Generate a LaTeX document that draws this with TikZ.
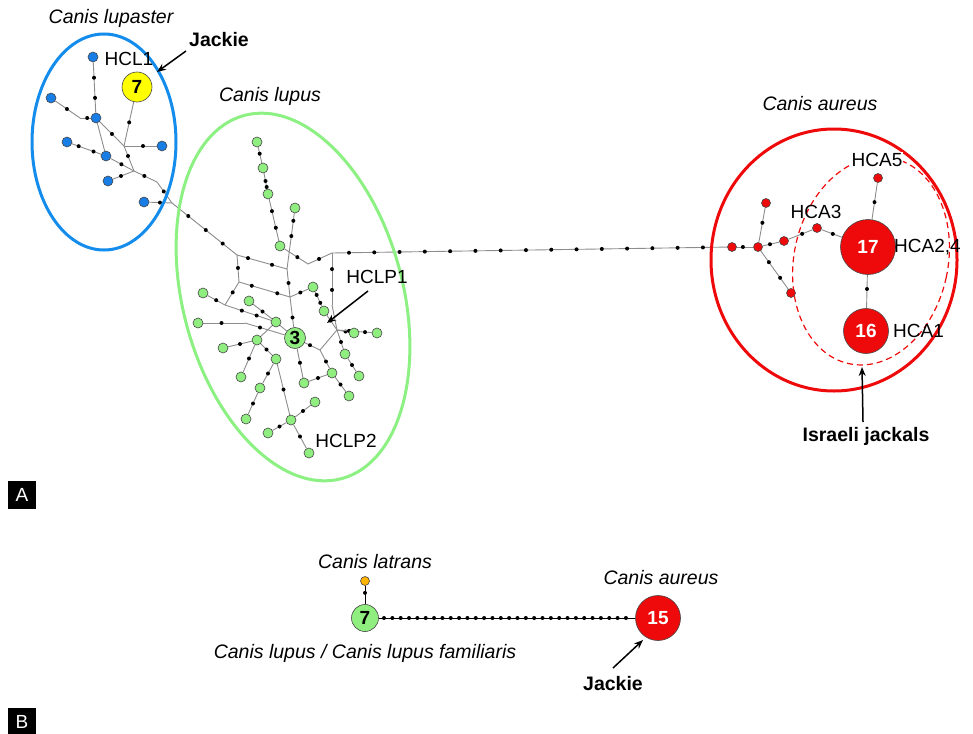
\documentclass[tikz,border=0pt]{standalone}
\usepackage{fontspec}
\setmainfont{Liberation Sans}
\usetikzlibrary{calc,arrows.meta}
\pgfdeclarelayer{bg}
\pgfsetlayers{bg,main}
\definecolor{bluen}{RGB}{25,125,230}
\definecolor{bluel}{RGB}{20,140,235}
\definecolor{greenn}{RGB}{144,238,128}
\definecolor{greenl}{RGB}{140,240,130}
\definecolor{redn}{RGB}{238,10,10}
\definecolor{yellown}{RGB}{255,255,0}
\definecolor{orangen}{RGB}{255,180,0}
\definecolor{edgegray}{RGB}{140,140,140}
\definecolor{nodeborder}{RGB}{70,70,70}
\newcounter{mvc}
\tikzset{
  edge/.style={draw=edgegray, line width=0.9pt},
  edgeb/.style={draw=black, line width=1pt},
  hap/.style={circle, draw=nodeborder, line width=0.6pt, inner sep=0pt, minimum size=10pt},
  bh/.style={hap, fill=bluen},
  gh/.style={hap, fill=greenn},
  rh/.style={hap, fill=redn, minimum size=9pt},
  mv/.style={circle, fill=black, inner sep=0pt, minimum size=4pt},
  lbl/.style={font=\fontsize{19}{21}\selectfont, inner sep=1pt},
  sp/.style={font=\fontsize{19.5}{21}\selectfont\itshape, inner sep=1pt},
  jk/.style={font=\fontsize{19.5}{21}\selectfont\bfseries, inner sep=1pt},
  num/.style={font=\fontsize{19}{21}\selectfont\bfseries},
  arr/.style={-{Stealth[length=9pt,width=7pt]}, line width=1.5pt},
  panel/.style={fill=black, text=white, minimum size=28pt, inner sep=0pt, font=\fontsize{19}{21}\selectfont}
}
\newcommand\lnk[4][edge]{%
  \draw[#1] (#2) -- (#3);
  \foreach \mvp in {#4}{\stepcounter{mvc}\node[mv] (mv\arabic{mvc}) at ($(#2)!\mvp!(#3)$) {};}%
}
\newcommand\lnz[2]{\draw[edge] (#1) -- (#2);}
\begin{document}
\begin{tikzpicture}[x=1pt,y=-1pt]
\useasboundingbox (0,0) rectangle (973,733);
% ---------------- blue cluster
\node[bh] (b1) at (93,57) {};
\node[bh] (b2) at (51,98) {};
\node[bh] (b3) at (96,118) {};
\node[bh] (b4) at (67,142) {};
\node[bh] (b5) at (106,156) {};
\node[bh] (b6) at (162,146) {};
\node[bh] (b7) at (108,181) {};
\node[bh] (b8) at (144,202) {};
\node[hap, fill=yellown, minimum size=30pt, num] (y7) at (137,87) {7};
\coordinate (jb1) at (80,118);
\coordinate (jb2) at (124,146);
\coordinate (jb3) at (134,171);
\coordinate (jb4) at (157,182);
\coordinate (jb5) at (172,203);
% ---------------- green cluster
\node[gh] (g1) at (257,142) {};
\node[gh] (g2) at (263,168) {};
\node[gh] (g3) at (268,194) {};
\node[gh] (g4) at (295,208) {};
\node[gh] (g5) at (280,246) {};
\node[gh] (g6) at (203,293) {};
\node[gh] (g7) at (249,301) {};
\node[gh] (g8) at (313,287) {};
\node[gh] (g9) at (198,323) {};
\node[gh] (g10) at (276,322) {};
\node[gh] (g11) at (324,311) {};
\node[gh, minimum size=21pt, num] (n3) at (295,338) {3};
\node[gh] (g12) at (257,340) {};
\node[gh] (g13) at (223,348) {};
\node[gh] (g14) at (354,333) {};
\node[gh] (g15) at (377,333) {};
\node[gh] (g16) at (345,354) {};
\node[gh] (g17) at (276,359) {};
\node[gh] (g18) at (241,377) {};
\node[gh] (g19) at (304,383) {};
\node[gh] (g20) at (332,373) {};
\node[gh] (g21) at (359,376) {};
\node[gh] (g22) at (260,388) {};
\node[gh] (g23) at (349,396) {};
\node[gh] (g24) at (315,402) {};
\node[gh] (g25) at (246,419) {};
\node[gh] (g26) at (291,420) {};
\node[gh] (g27) at (268,433) {};
\node[gh] (g28) at (309,453) {};
\coordinate (jg1) at (237,255);
\coordinate (jg2) at (287,269);
\coordinate (jg3) at (239,282);
\coordinate (jg4) at (332,253);
\coordinate (jg5) at (332,305);
\coordinate (jg6) at (290,297);
\coordinate (jg7) at (225,305);
\coordinate (jg8) at (245,323);
\coordinate (jg9) at (320,350);
\coordinate (jg10) at (337,330);
\coordinate (jg11) at (308,264);
% ---------------- red cluster
\node[rh] (r1) at (732,247) {};
\node[rh] (r2) at (758,247) {};
\node[rh] (r3) at (766,203) {};
\node[rh] (r4) at (784,241) {};
\node[rh] (r5) at (817,228) {};
\node[rh] (r6) at (791,293) {};
\node[rh] (r7) at (878,178) {};
\node[hap, fill=redn, minimum size=55pt, num, text=white] (r17) at (868,247) {17};
\node[hap, fill=redn, minimum size=45pt, num, text=white] (r16) at (866,331) {16};
% ---------------- panel B nodes
\node[hap, fill=orangen, minimum size=9pt] (o1) at (365,581) {};
\node[hap, fill=greenn, minimum size=27pt, num] (bg7) at (365,618) {7};
\node[hap, fill=redn, minimum size=45pt, num, text=white] (br15) at (658,618) {15};

\begin{pgfonlayer}{bg}
% blue edges
\lnk{b1}{b3}{0.34,0.67}
\lnk{b2}{jb1}{0.55}
\lnk{jb1}{b3}{0.45}
\lnk{b3}{jb2}{0.57}
\lnz{b3}{b5}
\lnk{y7}{jb2}{0.6}
\lnk{jb2}{b6}{0.5}
\lnk{jb2}{jb3}{0.4}
\lnk{b4}{b5}{0.3,0.68}
\lnk{b5}{jb3}{0.55}
\lnk{b7}{jb3}{0.5}
\lnk{jb3}{jb4}{0.45}
\lnk{jb4}{jb5}{0.45}
\lnk{b8}{jb5}{0.57}
\lnk{jb5}{jg1}{0.25,0.52,0.78}
% green edges
\lnk{g1}{g2}{0.45}
\lnk{g2}{g3}{0.5,0.73}
\lnk{g3}{g5}{0.33,0.65}
\lnk{g4}{jg2}{0.21,0.46}
\lnk{g5}{jg11}{0.62}
\lnk{jg11}{jg4}{0.46}
\lnk{jg4}{jg5}{0.31,0.71}
\lnz{jg5}{jg10}
\lnk{jg1}{jg2}{0.22,0.7}
\lnk{jg1}{jg3}{0.48}
\lnk{jg2}{jg6}{0.5}
\lnk{jg3}{jg6}{0.25,0.75}
\lnk{jg3}{jg7}{0.45}
\lnk{g6}{jg7}{0.6}
\lnk{jg7}{g10}{0.33,0.62}
\lnk{g7}{g10}{0.5}
\lnk{jg6}{g8}{0.45}
\lnk{g8}{g11}{0.33,0.66}
\lnk{g11}{jg10}{0.5}
\lnk{jg6}{n3}{0.5}
\lnz{g10}{n3}
\lnk{g9}{jg8}{0.5}
\lnk{jg8}{n3}{0.3}
\lnz{g12}{g10}
\lnk{g13}{g12}{0.5}
\lnk{g18}{g12}{0.5}
\lnk{g12}{g17}{0.5}
\lnk{g17}{g22}{0.5}
\lnk{g22}{g25}{0.5}
\lnk{g17}{g26}{0.5}
\lnk{g26}{g27}{0.5}
\lnk{g26}{g24}{0.5}
\lnk{g26}{g28}{0.5}
\lnk{n3}{g19}{0.55}
\lnk{g19}{g20}{0.5}
\lnk{g20}{g23}{0.5}
\lnk{g20}{jg9}{0.5}
\lnk{jg9}{n3}{0.4}
\lnz{jg10}{jg9}
\lnk{jg10}{g14}{0.5}
\lnk{jg10}{g15}{0.3,0.7}
\lnk{g16}{jg10}{0.5}
\lnk{g16}{g21}{0.5}
% long connection
\draw[edge] (jg4) -- (r1);
\foreach \i in {0,...,14}{\pgfmathsetmacro\mvpos{0.0425+\i*0.0632}\stepcounter{mvc}\node[mv] (mv\arabic{mvc}) at ($(jg4)!\mvpos!(r1)$) {};}
% red edges
\lnk{r1}{r2}{0.42}
\lnk{r2}{r3}{0.55}
\lnk{r2}{r4}{0.46}
\lnk{r4}{r5}{0.55}
\lnk{r5}{r17}{0.31}
\lnk{r2}{r6}{0.33,0.67}
\lnk{r17}{r7}{0.65}
\lnk{r17}{r16}{0.5}
% panel B edges
\lnk[edgeb]{o1}{bg7}{0.32}
\draw[edgeb] (bg7) -- (br15);
\foreach \i in {0,...,29}{\pgfmathsetmacro\mvpos{0.0648+\i*0.02848}\stepcounter{mvc}\node[mv] (mv\arabic{mvc}) at ($(bg7)!\mvpos!(br15)$) {};}
\end{pgfonlayer}

% ---------------- enclosing ellipses
\draw[bluel, line width=3pt] (104,142) ellipse [x radius=72, y radius=108];
\draw[greenl, line width=3pt, rotate around={15:(293,297)}] (293,297) ellipse [x radius=110, y radius=188];
\draw[redn, line width=3pt] (834,260) ellipse [x radius=123, y radius=131];
\draw[redn, line width=1.2pt, dash pattern=on 6pt off 4pt, rotate around={-12:(871,261)}] (871,261) ellipse [x radius=77, y radius=105];

% ---------------- labels
\node[sp] (tlupaster) at (111,18) {Canis lupaster};
\node[sp] (tlupus) at (270,96) {Canis lupus};
\node[sp] (taureus) at (820,104) {Canis aureus};
\node[lbl] (thcl1) at (129,59) {HCL1};
\node[jk] (tjackie) at (219,40) {Jackie};
\coordinate (ajt) at (186,51);
\coordinate (ajh) at (157,72);
\draw[arr] (ajt) -- (ajh);
\node[lbl] (thclp1) at (377,277) {HCLP1};
\coordinate (aht) at (368,291);
\coordinate (ahh) at (327,323);
\draw[arr] (aht) -- (ahh);
\node[lbl] (thclp2) at (346,441) {HCLP2};
\node[lbl, fill=white] (thca5) at (877,160) {HCA5};
\node[lbl] (thca3) at (816,212) {HCA3};
\node[lbl, anchor=west] (thca24) at (893,247) {HCA2,4};
\node[lbl, anchor=west] (thca1) at (892,331) {HCA1};
\node[jk] (tisr) at (866,436) {Israeli jackals};
\coordinate (ait) at (863,422);
\coordinate (aih) at (862,367);
\draw[arr] (ait) -- (aih);
\node[panel] (pa) at (22,495) {A};
% ---------------- panel B labels
\node[sp] (tlatrans) at (375,562) {Canis latrans};
\node[sp] (taureus2) at (661,578) {Canis aureus};
\node[sp] (tfam) at (365,653) {Canis lupus / Canis lupus familiaris};
\node[jk] (tjackie2) at (613,684) {Jackie};
\coordinate (abt) at (613,668);
\coordinate (abh) at (643,640);
\draw[arr] (abt) -- (abh);
\node[panel] (pb) at (22,722) {B};
\end{tikzpicture}
\end{document}
